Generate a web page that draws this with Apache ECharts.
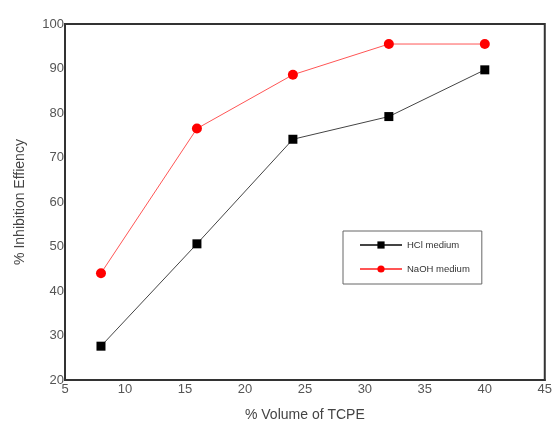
<!DOCTYPE html>
<html><head><meta charset="utf-8">
<script src="https://cdn.jsdelivr.net/npm/echarts@6/dist/echarts.min.js"></script>
<style>html,body{margin:0;padding:0;background:#fff}#c{width:555px;height:427px}</style>
</head><body><div id="c"></div>
<script>
const volumes = [8, 16, 24, 32, 40];
const hclValues = [27.6, 50.6, 74.1, 79.2, 89.7];
const naohValues = [44.0, 76.5, 88.6, 95.5, 95.5];
const xTicks = [5, 10, 15, 20, 25, 30, 35, 40, 45];
const yTicks = [20, 30, 40, 50, 60, 70, 80, 90, 100];

const chart = echarts.init(document.getElementById('c'));
const font = 'Liberation Sans, Arial, sans-serif';
chart.setOption({
  animation: false,
  grid: { left: 65, right: 7, top: 24, bottom: 45, show: true, borderColor: '#333', borderWidth: 2, containLabel: false },
  xAxis: {
    type: 'value', min: xTicks[0], max: xTicks[xTicks.length-1], interval: 5,
    name: '% Volume of TCPE', nameLocation: 'middle', nameGap: 28,
    nameTextStyle: { fontFamily: font, fontSize: 14, color: '#444' },
    axisLine: { show: true, lineStyle: { color: '#333', width: 2 } },
    axisTick: { show: false }, splitLine: { show: false },
    axisLabel: { fontFamily: font, fontSize: 13, color: '#555', margin: 3 }
  },
  yAxis: {
    type: 'value', min: yTicks[0], max: yTicks[yTicks.length-1], interval: 10,
    name: '% Inhibition Effiency', nameLocation: 'middle', nameGap: 38,
    nameTextStyle: { fontFamily: font, fontSize: 14, color: '#444' },
    axisLine: { show: true, lineStyle: { color: '#333', width: 2 } },
    axisTick: { show: false }, splitLine: { show: false },
    axisLabel: { fontFamily: font, fontSize: 13, color: '#555', margin: 1 }
  },
  legend: {
    orient: 'vertical', left: 343, top: 231,
    padding: [9, 12, 10, 16], itemGap: 14,
    borderColor: '#666', borderWidth: 1,
    itemWidth: 42, itemHeight: 9,
    textStyle: { fontFamily: font, fontSize: 9.5, color: '#333' },
    data: ['HCl medium', 'NaOH medium']
  },
  series: [
    { name: 'HCl medium', type: 'line', data: volumes.map((v,i)=>[v, hclValues[i]]),
      symbol: 'rect', symbolSize: 9, itemStyle: { color: '#000' },
      lineStyle: { color: '#444', width: 1 } },
    { name: 'NaOH medium', type: 'line', data: volumes.map((v,i)=>[v, naohValues[i]]),
      symbol: 'circle', symbolSize: 10, itemStyle: { color: '#f00' },
      lineStyle: { color: '#f55', width: 1 } }
  ]
});
</script></body></html>
